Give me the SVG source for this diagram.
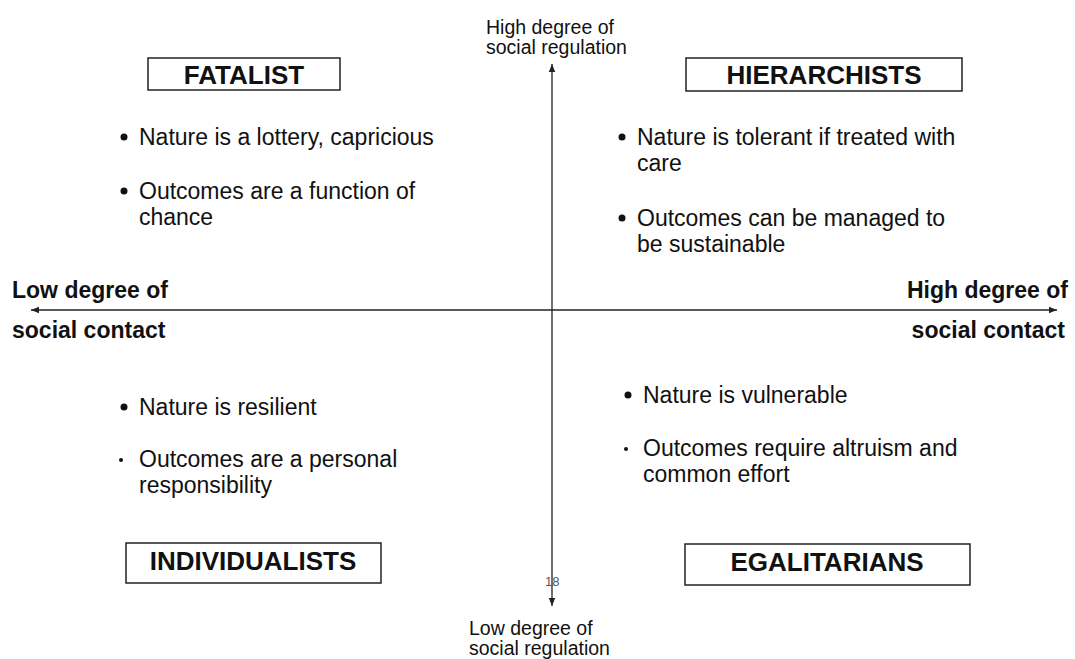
<svg xmlns="http://www.w3.org/2000/svg" width="1075" height="659" viewBox="0 0 1075 659">
<style>
.t{font-family:"Liberation Sans",Arial,sans-serif;fill:#111}
.b{font-size:23px}
.h{font-size:26px;font-weight:bold;text-anchor:middle}
.ax{font-size:23px;font-weight:bold}
.sm{font-size:19.5px}
.box{fill:#fff;stroke:#222;stroke-width:1.5}
.ln{stroke:#222;stroke-width:1.3;fill:none}
.dot{fill:#111}
</style>
<defs>
<marker id="ar" viewBox="0 0 10 10" refX="10" refY="5" markerWidth="8" markerHeight="8" orient="auto" markerUnits="userSpaceOnUse"><path d="M0,1 L10,5 L0,9 z" fill="#222"/></marker>
</defs>
<rect width="1075" height="659" fill="#fff"/>
<g id="connectors">
<line class="ln" x1="552" y1="310" x2="552" y2="64" marker-end="url(#ar)"/>
<line class="ln" x1="552" y1="310" x2="552" y2="606" marker-end="url(#ar)"/>
<line class="ln" x1="552" y1="310" x2="1057" y2="310" marker-end="url(#ar)"/>
<line class="ln" x1="552" y1="310" x2="31" y2="310" marker-end="url(#ar)"/>
</g>
<g id="fatalist">
<rect class="box" x="148" y="58" width="192" height="32"/>
<text class="t h" x="244" y="84">FATALIST</text>
<circle class="dot" cx="124" cy="137" r="3.5"/>
<text class="t b" x="139" y="145">Nature is a lottery, capricious</text>
<circle class="dot" cx="124" cy="191" r="3.5"/>
<text class="t b" x="139" y="199">Outcomes are a function of</text>
<text class="t b" x="139" y="225">chance</text>
</g>
<g id="hierarchists">
<rect class="box" x="686" y="58" width="276" height="33"/>
<text class="t h" x="824" y="84">HIERARCHISTS</text>
<circle class="dot" cx="622" cy="137" r="3.5"/>
<text class="t b" x="637" y="145">Nature is tolerant if treated with</text>
<text class="t b" x="637" y="171">care</text>
<circle class="dot" cx="622" cy="218" r="3.5"/>
<text class="t b" x="637" y="226">Outcomes can be managed to</text>
<text class="t b" x="637" y="252">be sustainable</text>
</g>
<g id="individualists">
<rect class="box" x="126" y="543" width="255" height="40"/>
<text class="t h" x="253" y="570">INDIVIDUALISTS</text>
<circle class="dot" cx="124" cy="407" r="3.5"/>
<text class="t b" x="139" y="415">Nature is resilient</text>
<circle class="dot" cx="121" cy="460" r="2"/>
<text class="t b" x="139" y="467">Outcomes are a personal</text>
<text class="t b" x="139" y="493">responsibility</text>
</g>
<g id="egalitarians">
<rect class="box" x="685" y="544" width="285" height="41"/>
<text class="t h" x="827" y="571">EGALITARIANS</text>
<circle class="dot" cx="628" cy="395" r="3.5"/>
<text class="t b" x="643" y="403">Nature is vulnerable</text>
<circle class="dot" cx="626" cy="449" r="2"/>
<text class="t b" x="643" y="456">Outcomes require altruism and</text>
<text class="t b" x="643" y="482">common effort</text>
</g>
<g id="axis-labels">
<text class="t sm" x="486" y="34">High degree of</text>
<text class="t sm" x="486" y="54">social regulation</text>
<text class="t sm" x="469" y="635">Low degree of</text>
<text class="t sm" x="469" y="655">social regulation</text>
<text class="t ax" x="12" y="298">Low degree of</text>
<text class="t ax" x="12" y="338">social contact</text>
<text class="t ax" x="1068" y="298" text-anchor="end">High degree of</text>
<text class="t ax" x="1065" y="338" text-anchor="end">social contact</text>
<text x="545" y="586" font-family="Liberation Sans, Arial, sans-serif" font-size="13" fill="#555">18</text>
</g>
</svg>
